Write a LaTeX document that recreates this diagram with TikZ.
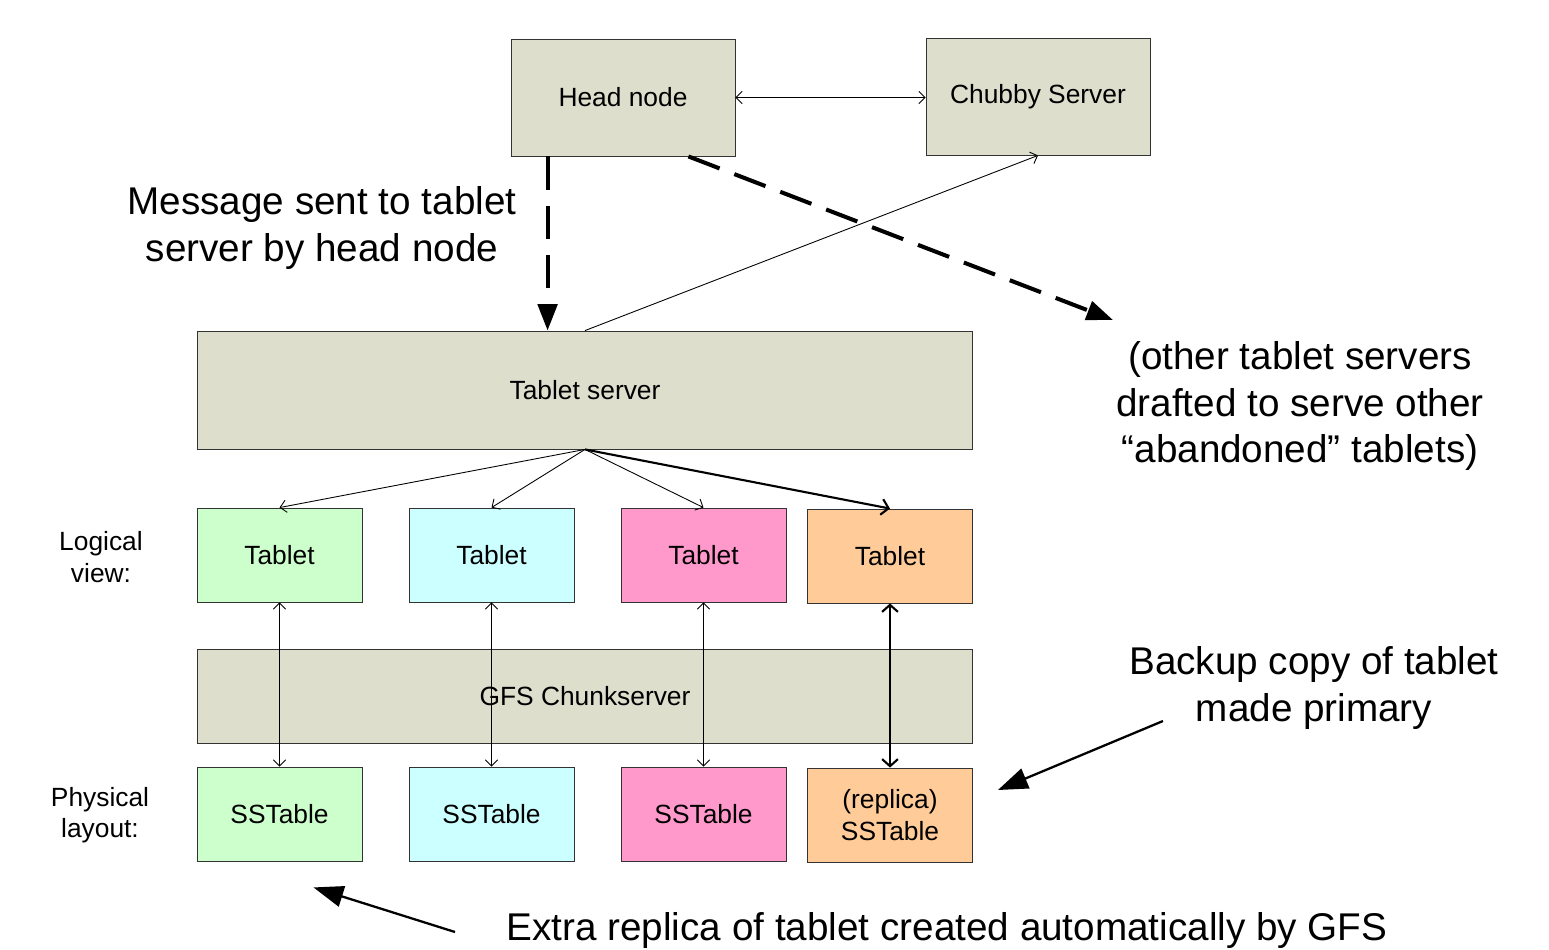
\documentclass[tikz,border=0pt]{standalone}
\usepackage{fontspec}
\setmainfont{Liberation Sans}
\usetikzlibrary{arrows.meta,calc}
\definecolor{boxgray}{RGB}{221,222,204}
\definecolor{tabgreen}{RGB}{204,255,204}
\definecolor{tabcyan}{RGB}{204,255,255}
\definecolor{tabpink}{RGB}{255,153,204}
\definecolor{taborange}{RGB}{255,204,153}
\tikzset{
  box/.style={draw=black!80,line width=0.5pt,minimum width=#1,inner sep=0pt,font=\fontsize{15}{18}\selectfont,align=center},
  box/.default=3.3cm,
  barb/.tip={Straight Barb[length=3.5pt,width=7pt]},
  bigbarb/.tip={Straight Barb[length=4pt,width=9pt]},
  link/.style={line width=0.5pt,-barb},
  twolink/.style={line width=0.5pt,barb-barb},
  boldlink/.style={line width=1.2pt,-bigbarb},
  twobold/.style={line width=1.2pt,bigbarb-bigbarb},
  msg/.style={line width=2.3pt,dash pattern=on 19pt off 9pt,-{Triangle[length=15pt,width=11pt]}},
  note/.style={line width=1.3pt,-{Triangle[length=17pt,width=12pt]}},
  big/.style={font=\fontsize{22}{26.5}\selectfont,align=center},
  side/.style={font=\fontsize{15}{18}\selectfont,align=center}
}
\begin{document}
\begin{tikzpicture}[x=0.02cm,y=-0.02cm]
\useasboundingbox (0,0) rectangle (1549,950);
% top row
\node[box=4.48cm,minimum height=2.34cm,fill=boxgray] (head) at (623,97.5) {Head node};
\node[box=4.48cm,minimum height=2.34cm,fill=boxgray] (chubby) at (1038,96.5) {Chubby Server};
\node[box=15.52cm,minimum height=2.36cm,fill=boxgray] (server) at (585,390) {Tablet server};
\node[box=15.52cm,minimum height=1.88cm,fill=boxgray] (gfs) at (585,696) {GFS Chunkserver};
% tablets and sstables
\node[box,minimum height=1.88cm,fill=tabgreen] (t1) at (279.5,555) {Tablet};
\node[box,minimum height=1.88cm,fill=tabcyan] (t2) at (491.5,555) {Tablet};
\node[box,minimum height=1.88cm,fill=tabpink] (t3) at (703.5,555) {Tablet};
\node[box,minimum height=1.88cm,fill=taborange] (t4) at (890,556) {Tablet};
\node[box,minimum height=1.88cm,fill=tabgreen] (s1) at (279.5,814) {SSTable};
\node[box,minimum height=1.88cm,fill=tabcyan] (s2) at (491.5,814) {SSTable};
\node[box,minimum height=1.88cm,fill=tabpink] (s3) at (703.5,814) {SSTable};
\node[box,minimum height=1.88cm,fill=taborange] (s4) at (890,815) {(replica)\\SSTable};
% labels
\node[side] (logical) at (101,557) {Logical\\view:};
\node[side] (physical) at (100,815) {Physical\\layout:};
\node[big] (msgtext) at (322,228) {Message sent to tablet\\server by head node};
\node[big] (othertext) at (1300,406) {(other tablet servers\\drafted to serve other\\“abandoned” tablets)};
\node[big] (backuptext) at (1314,688) {Backup copy of tablet\\made primary};
\node[big,anchor=base] (extratext) at (947,940) {Extra replica of tablet created automatically by GFS};
\coordinate (other) at (1113,320);
\coordinate (backup) at (1163,721);
\coordinate (extra) at (455,932);
% connectors
\draw[twolink] (head.east) -- (head.east -| chubby.west);
\draw[link] (server.north) -- (chubby.south);
\draw[msg] ([xshift=0.74cm]head.south west) -- ([xshift=0.74cm]head.south west |- server.north);
\draw[msg] ([xshift=-0.94cm]head.south east) -- (other);
\draw[link] (server.south) -- (t1.north);
\draw[link] (server.south) -- (t2.north);
\draw[link] (server.south) -- (t3.north);
\draw[boldlink] (server.south) -- (t4.north);
\foreach \i in {1,2,3}
  \draw[twolink] (t\i.south) -- (s\i.north);
\draw[twobold] (t4.south) -- (s4.north);
\draw[note] (backup) -- ($(s4.east)+(25,-25)$);
\draw[note] (extra) -- ($(s1.south)+(34,26)$);
\end{tikzpicture}
\end{document}
